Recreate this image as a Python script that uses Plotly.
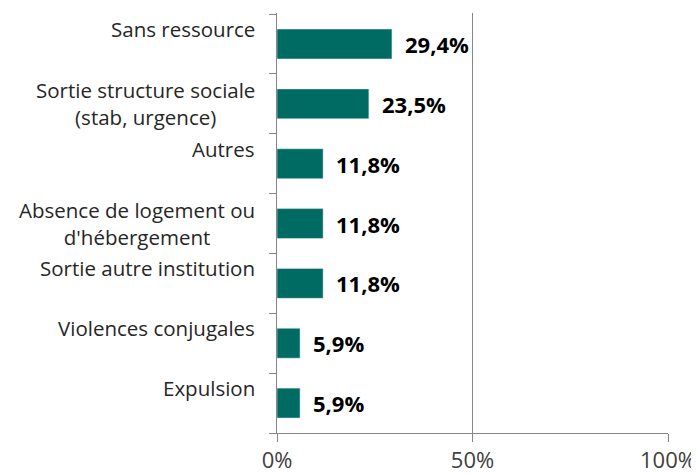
import plotly.graph_objects as go

categories = ["Sans ressource", "Sortie structure sociale<br>(stab, urgence)", "Autres",
              "Absence de logement ou<br>d'hébergement", "Sortie autre institution",
              "Violences conjugales", "Expulsion"]
values = [29.4, 23.5, 11.8, 11.8, 11.8, 5.9, 5.9]
value_labels = ["29,4%", "23,5%", "11,8%", "11,8%", "11,8%", "5,9%", "5,9%"]
x_ticks = [0, 50, 100]
x_tick_labels = ["0%", "50%", "100%"]

cats_rev = categories[::-1]
vals_rev = values[::-1]

fig = go.Figure()
fig.add_trace(go.Bar(
    y=cats_rev, x=vals_rev, orientation="h",
    marker=dict(color="#006b63"), width=0.5, hoverinfo="skip",
))

font_family = "Open Sans, Noto Sans, sans-serif"
annotations = []
for c, v, lab in zip(categories, values, value_labels):
    annotations.append(dict(
        x=v, y=c, xref="x", yref="y", text="<b>" + lab + "</b>",
        showarrow=False, xanchor="left", yanchor="middle", xshift=11, yshift=0,
        font=dict(family=font_family, size=22, color="#000000"),
    ))
    single = "<br>" not in c
    annotations.append(dict(
        x=0, y=c, xref="paper", yref="y", text=c, showarrow=False,
        xanchor="right", yanchor="middle", align="center", xshift=-20,
        yshift=15 if single else 0,
        font=dict(family=font_family, size=20.5, color="#262626"),
    ))

fig.update_layout(
    width=691, height=466,
    margin=dict(l=269, r=31, t=5, b=41, autoexpand=False),
    paper_bgcolor="white", plot_bgcolor="white",
    showlegend=False,
    annotations=annotations,
    xaxis=dict(
        range=[0, 100], tickvals=x_ticks, ticktext=x_tick_labels,
        showgrid=True, gridcolor="#868686", gridwidth=1,
        showline=True, linecolor="#868686", linewidth=1,
        ticks="outside", ticklen=8, tickcolor="#868686",
        tickfont=dict(family=font_family, size=22, color="#404040"),
        zeroline=False, fixedrange=True, automargin=False,
    ),
    yaxis=dict(
        categoryorder="array", categoryarray=cats_rev,
        showticklabels=False, tickson="boundaries",
        ticks="outside", ticklen=7, tickcolor="#868686",
        showline=True, linecolor="#868686", linewidth=1,
        showgrid=False, fixedrange=True, automargin=False,
    ),
)

fig.write_html("out.html")
